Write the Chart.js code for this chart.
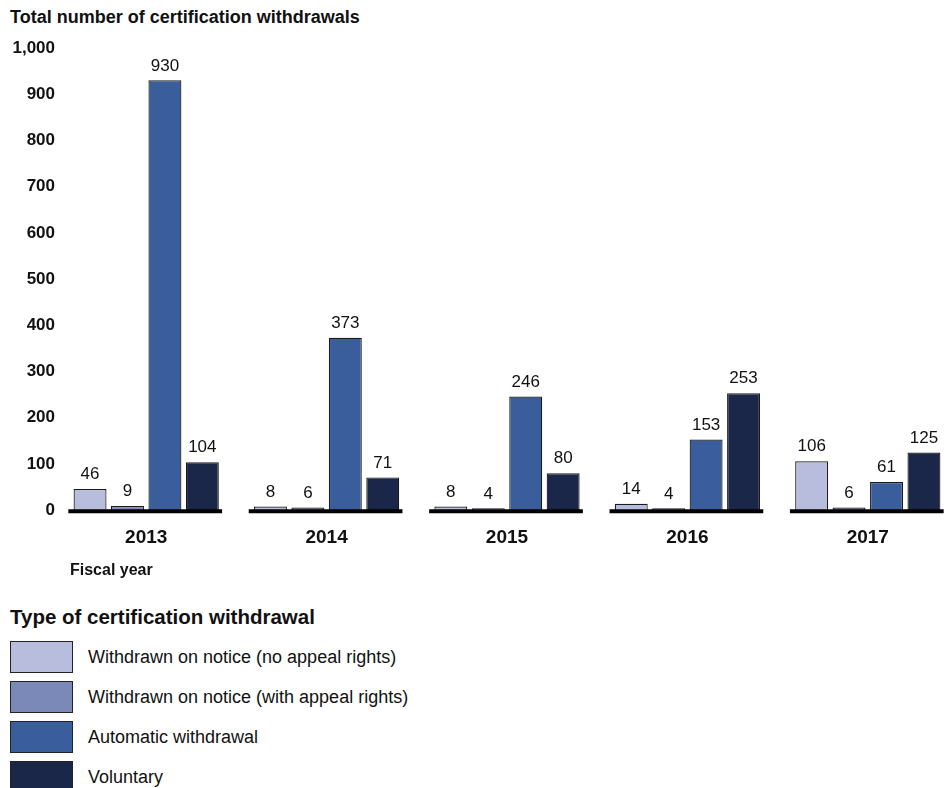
<!DOCTYPE html>
<html>
<head>
<meta charset="utf-8">
<script src="https://cdn.jsdelivr.net/npm/chart.js@4/dist/chart.umd.min.js"></script>
<style>
  html, body { margin: 0; padding: 0; background: #fff; overflow: hidden; }
  body { width: 951px; height: 788px; position: relative; font-family: "Liberation Sans", Arial, sans-serif; color: #111; }
  #wrap { position: absolute; left: 0; top: 0; width: 958px; height: 576px; }
  #chartTitle { position: absolute; left: 10px; top: 7px; font-size: 18px; font-weight: bold; }
  #xTitle { position: absolute; left: 70px; top: 561px; font-size: 16px; font-weight: bold; }
  #legend { position: absolute; left: 10px; top: 605px; }
  #legend h3 { margin: 0 0 12px 0; font-size: 20.5px; font-weight: bold; }
  .item { display: flex; align-items: center; height: 32px; margin-bottom: 8px; font-size: 18px; }
  .sw { width: 61px; height: 30px; border: 1px solid #222; margin-right: 15px; }
</style>
</head>
<body>
<div id="chartTitle">Total number of certification withdrawals</div>
<div id="wrap"><canvas id="chart"></canvas></div>
<div id="xTitle">Fiscal year</div>
<div id="legend"></div>

<script>
const years = ["2013", "2014", "2015", "2016", "2017"];
const seriesNames = [
  "Withdrawn on notice (no appeal rights)",
  "Withdrawn on notice (with appeal rights)",
  "Automatic withdrawal",
  "Voluntary",
];
const noAppeal = [46, 8, 8, 14, 106];
const withAppeal = [9, 6, 4, 4, 6];
const automatic = [930, 373, 246, 153, 61];
const voluntary = [104, 71, 80, 253, 125];
const colors = ["#b9bddd", "#7b89b9", "#3a5e9b", "#1b2749"];

const catPct = 0.83;

// ligne de base noire sous chaque groupe
const baselinePlugin = {
  id: "baseline",
  afterDatasetsDraw(chart) {
    const ctx = chart.ctx;
    const x = chart.scales.x;
    const y0 = chart.scales.y.getPixelForValue(0);
    const step = x.width / years.length;
    ctx.save();
    ctx.strokeStyle = "#000";
    ctx.lineWidth = 4;
    years.forEach((yr, i) => {
      const c = x.getPixelForValue(i);
      ctx.beginPath();
      ctx.moveTo(c - (step * catPct) / 2 - 3, y0 + 1);
      ctx.lineTo(c + (step * catPct) / 2 + 1, y0 + 1);
      ctx.stroke();
    });
    ctx.restore();
  },
};

// étiquettes de valeur au-dessus des barres
const labelsPlugin = {
  id: "valueLabels",
  afterDatasetsDraw(chart) {
    const ctx = chart.ctx;
    ctx.save();
    ctx.font = "17px 'Liberation Sans', Arial, sans-serif";
    ctx.fillStyle = "#111";
    ctx.textAlign = "center";
    ctx.textBaseline = "bottom";
    chart.data.datasets.forEach((ds, di) => {
      chart.getDatasetMeta(di).data.forEach((bar, i) => {
        ctx.fillText(ds.data[i], bar.x, bar.y - 6);
      });
    });
    ctx.restore();
  },
};

const ctx = document.getElementById("chart").getContext("2d");
new Chart(ctx, {
  type: "bar",
  data: {
    labels: years,
    datasets: [noAppeal, withAppeal, automatic, voluntary].map((d, i) => ({
      label: seriesNames[i],
      data: d,
      backgroundColor: colors[i],
      borderColor: "#1a1a1a",
      borderWidth: 1.2,
      categoryPercentage: catPct,
      barPercentage: 0.88,
    })),
  },
  options: {
    responsive: true,
    maintainAspectRatio: false,
    animation: false,
    layout: { padding: { top: 48, right: 0, bottom: 11, left: 0 } },
    plugins: {
      legend: { display: false },
      tooltip: { enabled: false },
    },
    scales: {
      x: {
        grid: { display: false, drawTicks: false },
        border: { display: false },
        ticks: {
          color: "#111",
          padding: 16,
          font: { family: "'Liberation Sans', Arial, sans-serif", size: 19, weight: "bold" },
        },
      },
      y: {
        min: 0,
        max: 1000,
        grid: { display: false, drawTicks: false },
        border: { display: false },
        afterFit: (scale) => { scale.width = 56; },
        ticks: {
          stepSize: 100,
          padding: 1,
          color: "#111",
          font: { family: "'Liberation Sans', Arial, sans-serif", size: 17, weight: "bold" },
          callback: (v) => v.toLocaleString("en-US"),
        },
      },
    },
  },
  plugins: [baselinePlugin, labelsPlugin],
});

// légende HTML
const legend = document.getElementById("legend");
legend.innerHTML = "<h3>Type of certification withdrawal</h3>" +
  seriesNames.map((n, i) =>
    `<div class="item"><div class="sw" style="background:${colors[i]}"></div>${n}</div>`
  ).join("");
</script>
</body>
</html>
